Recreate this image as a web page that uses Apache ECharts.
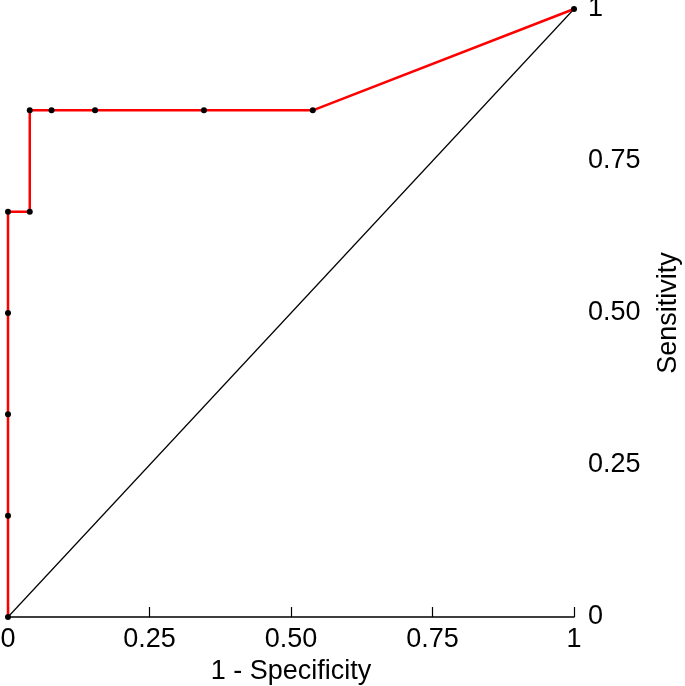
<!DOCTYPE html>
<html>
<head>
<meta charset="utf-8">
<script src="https://cdn.jsdelivr.net/npm/echarts@6/dist/echarts.min.js"></script>
<style>
  html, body { margin: 0; padding: 0; background: #fff; }
  #chart { width: 685px; height: 686px; }
</style>
</head>
<body>
<div id="chart"></div>
<script>
// ROC curve data
const fpr = [0, 0, 0, 0, 0, 1 / 26, 1 / 26, 2 / 26, 4 / 26, 9 / 26, 14 / 26, 1]
const tpr = [0, 1 / 6, 2 / 6, 3 / 6, 4 / 6, 4 / 6, 5 / 6, 5 / 6, 5 / 6, 5 / 6, 5 / 6, 1]
const diagX = [0, 1]
const diagY = [0, 1]
const xTickLabels = { 0: '0', 0.25: '0.25', 0.5: '0.50', 0.75: '0.75', 1: '1' }
const yTickLabels = { 0: '0', 0.25: '0.25', 0.5: '0.50', 0.75: '0.75', 1: '1' }

const font = 'Liberation Sans, Arial, Helvetica, sans-serif'
const chart = echarts.init(document.getElementById('chart'))

chart.setOption({
  animation: false,
  grid: { left: 8, right: 111, top: 9, bottom: 69, outerBoundsMode: 'none', containLabel: false },
  xAxis: {
    type: 'value',
    min: 0,
    max: 1,
    interval: 0.25,
    offset: 4,
    name: '1 - Specificity',
    nameLocation: 'middle',
    nameGap: 33,
    nameTextStyle: { fontFamily: font, fontSize: 27, color: '#000' },
    axisLine: { show: true, lineStyle: { color: '#000', width: 1.5 } },
    axisTick: { show: true, inside: true, length: 10, lineStyle: { color: '#000', width: 1.2 } },
    axisLabel: {
      margin: 5,
      fontFamily: font,
      fontSize: 27,
      color: '#000',
      formatter: v => xTickLabels[v] ?? String(v)
    },
    splitLine: { show: false }
  },
  yAxis: {
    type: 'value',
    position: 'right',
    min: 0,
    max: 1,
    interval: 0.25,
    name: 'Sensitivity',
    nameLocation: 'middle',
    nameRotate: 90,
    nameGap: 81,
    nameTextStyle: { fontFamily: font, fontSize: 27, color: '#000' },
    axisLine: { show: false },
    axisTick: { show: false },
    axisLabel: {
      margin: 14,
      fontFamily: font,
      fontSize: 27,
      color: '#000',
      formatter: v => yTickLabels[v] ?? String(v)
    },
    splitLine: { show: false }
  },
  series: [
    {
      type: 'line',
      data: diagX.map((x, i) => [x, diagY[i]]),
      showSymbol: false,
      lineStyle: { color: '#000', width: 1.2 },
      z: 1
    },
    {
      type: 'line',
      data: fpr.map((x, i) => [x, tpr[i]]),
      symbol: 'circle',
      symbolSize: 6,
      itemStyle: { color: '#000' },
      lineStyle: { color: '#ff0000', width: 2.5 },
      clip: false,
      z: 2
    }
  ]
})
</script>
</body>
</html>
